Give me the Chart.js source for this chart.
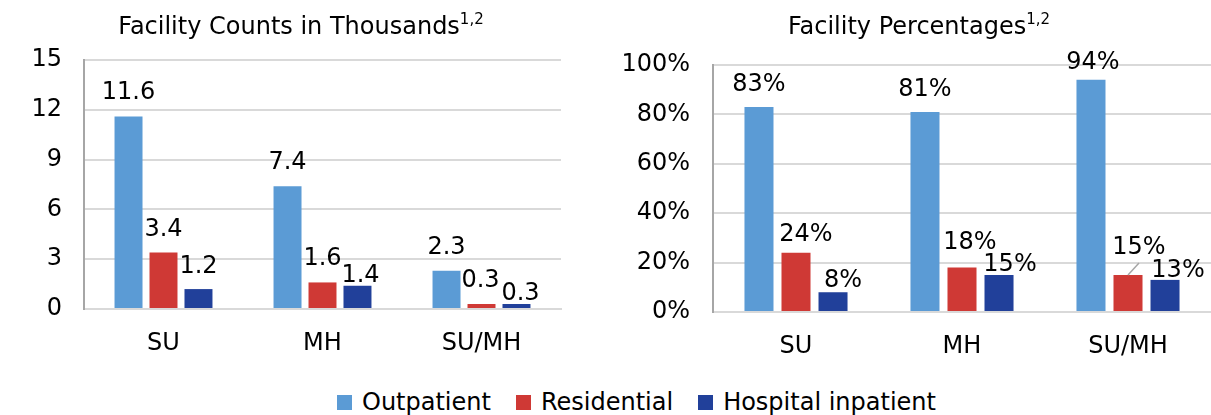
<!DOCTYPE html>
<html>
<head>
<meta charset="utf-8">
<script src="https://cdn.jsdelivr.net/npm/chart.js@4"></script>
<style>
  body { margin: 0; background: #fff; }
  #wrap { position: relative; width: 1211px; height: 415px; background: #fff; font-family: "DejaVu Sans", Verdana, sans-serif; color: #000; overflow: hidden; }
  canvas { position: absolute; top: 0; }
  .title { position: absolute; top: 11px; font-size: 24px; white-space: nowrap; transform: translateX(-50%); line-height: 30px; }
  .title sup { font-size: 15px; vertical-align: 0; position: relative; top: -10px; }
  #legend { position: absolute; left: 337px; top: 388px; display: flex; align-items: center; font-size: 24px; line-height: 28px; }
  .item { display: flex; align-items: center; margin-right: 25px; }
  .box { width: 15px; height: 15px; margin-right: 10px; }
</style>
</head>
<body>
<div id="wrap">
  <canvas id="countChart" width="600" height="370" style="left:0"></canvas>
  <canvas id="pctChart" width="611" height="370" style="left:600px"></canvas>
  <div class="title" style="left:301px">Facility Counts in Thousands<sup>1,2</sup></div>
  <div class="title" style="left:919px">Facility Percentages<sup>1,2</sup></div>
  <div id="legend"></div>
</div>
<script>
// categories and series
const categories = ['SU', 'MH', 'SU/MH'];
const seriesNames = ['Outpatient', 'Residential', 'Hospital inpatient'];
const colors = ['#5B9BD5', '#CF3935', '#21409A'];

// counts (thousands)
const countOutpatient = [11.6, 7.4, 2.3];
const countResidential = [3.4, 1.6, 0.3];
const countHospital = [1.2, 1.4, 0.3];
const countTicks = [0, 3, 6, 9, 12, 15];

// percentages
const pctOutpatient = [83, 81, 94];
const pctResidential = [24, 18, 15];
const pctHospital = [8, 15, 13];
const pctTicks = [0, 20, 40, 60, 80, 100];

const FONT = '"DejaVu Sans", Verdana, sans-serif';
const SIZE = 24;

// draws the value labels above bars (Excel style, some nudged to avoid overlap)
const barLabels = {
    id: 'barLabels',
    afterDatasetsDraw(chart, args, opts) {
        const ctx = chart.ctx;
        ctx.save();
        ctx.font = SIZE + 'px ' + FONT;
        ctx.fillStyle = '#000';
        ctx.textAlign = 'center';
        ctx.textBaseline = 'alphabetic';
        chart.data.datasets.forEach((ds, i) => {
            chart.getDatasetMeta(i).data.forEach((bar, j) => {
                const off = opts.offsets[i][j];
                const cy = bar.y + off[1];
                ctx.fillText(opts.format(ds.data[j]), bar.x + off[0], cy + SIZE * 0.365);
                if (opts.leader && opts.leader[0] === i && opts.leader[1] === j) {
                    ctx.strokeStyle = '#a6a6a6';
                    ctx.lineWidth = 1.5;
                    ctx.beginPath();
                    ctx.moveTo(bar.x, bar.y);
                    ctx.lineTo(bar.x + 11, bar.y - 12);
                    ctx.stroke();
                }
            });
        });
        ctx.restore();
    }
};

function makeDatasets(arrays, barPct, catPct) {
    return arrays.map((arr, i) => ({
        label: seriesNames[i],
        data: arr,
        backgroundColor: colors[i],
        borderWidth: 0,
        barPercentage: barPct,
        categoryPercentage: catPct
    }));
}

function makeOptions(cfg) {
    return {
        responsive: false,
        animation: false,
        layout: { padding: { top: cfg.top, right: cfg.right, left: 0, bottom: 0 } },
        plugins: {
            legend: { display: false },
            tooltip: { enabled: false },
            barLabels: { offsets: cfg.offsets, format: cfg.format, leader: cfg.leader }
        },
        scales: {
            x: {
                grid: { display: false, drawTicks: false },
                border: { color: '#d9d9d9', width: 2 },
                ticks: { color: '#000', font: { family: FONT, size: SIZE }, padding: 20 },
                afterFit(scale) { scale.height = cfg.xHeight; }
            },
            y: {
                min: cfg.ticks[0],
                max: cfg.ticks[cfg.ticks.length - 1],
                afterBuildTicks(scale) { scale.ticks = cfg.ticks.map(v => ({ value: v })); },
                grid: { color: '#d9d9d9', lineWidth: 2, drawTicks: false },
                border: { color: '#a6a6a6', width: 2 },
                ticks: { color: '#000', font: { family: FONT, size: SIZE }, padding: cfg.tickPad, callback: cfg.tickFmt },
                afterFit(scale) { scale.width = cfg.yWidth; }
            }
        }
    };
}

new Chart(document.getElementById('countChart'), {
    type: 'bar',
    data: {
        labels: categories,
        datasets: makeDatasets([countOutpatient, countResidential, countHospital], 0.8, 0.66)
    },
    options: makeOptions({
        top: 60, right: 39, xHeight: 61, yWidth: 84, tickPad: 22,
        ticks: countTicks,
        tickFmt: v => v,
        format: v => v.toFixed(1),
        offsets: [
            [[0, -26], [0, -26], [0, -26]],
            [[0, -25], [0, -26], [-1, -26]],
            [[0, -25], [3, -13], [4, -13]]
        ]
    }),
    plugins: [barLabels]
});

new Chart(document.getElementById('pctChart'), {
    type: 'bar',
    data: {
        labels: categories,
        datasets: makeDatasets([pctOutpatient, pctResidential, pctHospital], 0.784, 0.669)
    },
    options: makeOptions({
        top: 65, right: 0, xHeight: 58, yWidth: 113, tickPad: 23,
        ticks: pctTicks,
        tickFmt: v => v + '%',
        format: v => v + '%',
        leader: [1, 2],
        offsets: [
            [[0, -25], [0, -25], [2, -20]],
            [[10, -20], [8, -27], [11, -30]],
            [[10, -14], [11, -13], [13, -12]]
        ]
    }),
    plugins: [barLabels]
});

// legend below both charts
const legend = document.getElementById('legend');
seriesNames.forEach((name, i) => {
    const item = document.createElement('div');
    item.className = 'item';
    item.innerHTML = `<span class="box" style="background:${colors[i]}"></span><span>${name}</span>`;
    legend.appendChild(item);
});
</script>
</body>
</html>
